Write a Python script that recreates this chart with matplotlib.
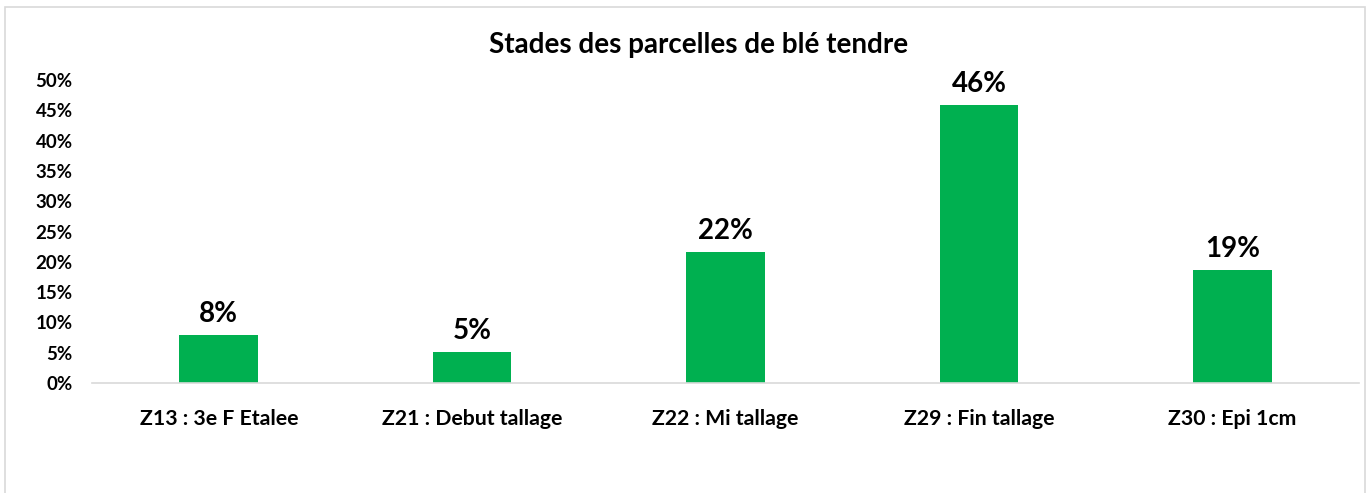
import matplotlib
matplotlib.use("Agg")
import matplotlib.pyplot as plt
from matplotlib.patches import Rectangle
from matplotlib.ticker import FuncFormatter, MultipleLocator

categories = ["Z13 : 3e F Etalee", "Z21 : Debut tallage", "Z22 : Mi tallage",
              "Z29 : Fin tallage", "Z30 : Epi 1cm"]
values = [0.079, 0.052, 0.216, 0.459, 0.187]
title = "Stades des parcelles de blé tendre"

plt.rcParams['font.family'] = ['Lato', 'DejaVu Sans']

fig = plt.figure(figsize=(13.68, 4.93), dpi=100)
ax = fig.add_axes([0.0673, 0.223, 0.9261, 0.6147])

x = list(range(len(categories)))
ax.bar(x, values, width=0.31, color="#00B050", zorder=2)
ax.set_xlim(-0.5, len(categories) - 0.5)
ax.set_ylim(0, 0.5)
ax.yaxis.set_major_locator(MultipleLocator(0.05))
ax.yaxis.set_major_formatter(FuncFormatter(lambda v, p: f"{v*100:.0f}%"))

for xi, v in zip(x, values):
    ax.text(xi, v + 0.013, f"{v*100:.0f}%", ha="center", va="bottom",
            fontsize=20, fontweight="bold", color="#000000")

ax.set_xticks(x)
ax.set_xticklabels(categories, fontsize=15.3, fontweight="bold")
for lbl in ax.get_yticklabels():
    lbl.set_fontsize(13.5)
    lbl.set_fontweight("bold")
ax.tick_params(axis="x", length=0, pad=19)
ax.tick_params(axis="y", length=0, pad=14)

for s in ["top", "right", "left"]:
    ax.spines[s].set_visible(False)
ax.spines["bottom"].set_color("#D9D9D9")
ax.spines["bottom"].set_linewidth(1.2)

fig.text(0.511, 0.908, title, ha="center", va="center", fontsize=20, fontweight="bold")

fig.patches.append(Rectangle((5/1368, -0.1), 1360/1368, 1 - 7/493 + 0.1,
                             transform=fig.transFigure, fill=False,
                             edgecolor="#D9D9D9", linewidth=1.2))

fig.savefig("out.png", dpi=100)
